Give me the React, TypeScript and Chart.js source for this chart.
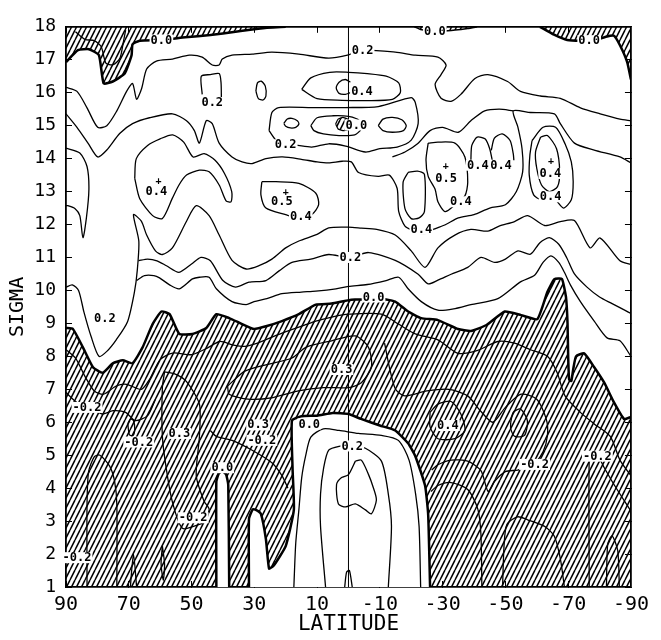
import React, { useEffect, useRef } from "react";
import { Chart, registerables } from "chart.js";

Chart.register(...registerables);

type P = [number, number];

// ---- axes ----
const latTicks = [90, 70, 50, 30, 10, -10, -30, -50, -70, -90];
const sigmaTicks = [1, 2, 3, 4, 5, 6, 7, 8, 9, 10, 11, 12, 13, 14, 15, 16, 17, 18];

// ---- hatched (negative) regions: [latitude, sigma] ----
const hatchLower: P[] = [[90,8.86],[87.8,8.83],[84.6,8.27],[81.4,7.67],[78.3,7.5],[75.1,7.79],[71.9,7.88],[68.8,7.79],[65.6,8.27],[62.4,8.98],[59.6,9.36],[57,9.28],[53.9,8.68],[49.7,8.68],[45.3,8.86],[42.1,9.28],[38,9.16],[33.9,8.98],[30.1,8.83],[26,8.92],[21.2,9.07],[15.8,9.28],[10.4,9.57],[5.4,9.6],[-0.9,9.72],[-5.4,9.72],[-10.5,9.75],[-14.9,9.66],[-19,9.36],[-23.2,9.16],[-28.5,9.1],[-34.9,8.83],[-39,8.77],[-44,8.95],[-49.8,9.36],[-55,9.25],[-60.2,9.13],[-63.4,9.96],[-65.6,10.34],[-68,10.35],[-69.3,9.8],[-69.8,9.0],[-70,8.0],[-70.3,7.3],[-71,7.25],[-71.6,7.6],[-72.5,8.0],[-75.1,8.09],[-78.3,7.67],[-81.5,7.2],[-84.6,6.6],[-87.8,6.1],[-90,6.16]];
const hatchTopLeft: P[] = [[90,16.93],[86.2,17.29],[82.7,17.32],[79.5,17.14],[78,16.28],[75.1,16.34],[71.3,16.58],[69.1,17.14],[68.8,17.47],[66.5,17.58],[59.6,17.6],[52,17.68],[44,17.75],[36,17.85],[28,17.95],[20,18]];
const hatchTopMid: P[] = [[-21,18],[-23,17.92],[-26,17.88],[-30,17.87],[-34,17.9],[-38,17.95],[-41,18]];
const hatchTopRight: P[] = [[-61,18],[-65.5,17.76],[-69.7,17.6],[-74,17.58],[-79,17.6],[-82,17.7],[-84.6,17.73],[-86.5,17.44],[-88.8,16.93],[-90,16.4]];
const hatchBlob: P[] = [[4.1,15.05],[3.3,15.2],[1.8,15.25],[0.2,15.2],[-0.5,15.05],[0.2,14.88],[1.8,14.85],[3.3,14.9],[4.1,15.05]];

// ---- positive holes inside the lower hatched region ----
const whiteTongue: P[] = [[31.7,1],[31.7,3.07],[30.5,3.36],[29.5,3.34],[27.9,3.22],[26.3,2.45],[25.3,1.56],[23.8,1.65],[20,2.24],[17.4,3.34],[17.8,4.56],[18,6.05],[15,6.18],[10,6.2],[5,6.28],[0,6.25],[-4,6.1],[-10,5.9],[-14.9,5.75],[-19,5.36],[-21.3,4.97],[-24.4,4.08],[-25.4,3.19],[-26,1]];
const whiteSlot: P[] = [[42.1,1],[42.1,4.2],[41.3,4.45],[40.2,4.52],[39,4.42],[38.3,4.1],[38,1]];

// ---- contour lines ----
const lineA: P[] = [[90,16.16],[86.5,16.04],[83.3,15.54],[79.9,14.95],[77,15.0],[73.8,15.45],[70.7,16.04],[68.8,16.28],[67.5,15.8],[65.9,16.13],[64.3,16.72],[61.2,16.96],[56.1,17.02],[50.7,17.14],[46.6,17.08],[43.4,16.84],[41.2,16.84],[40.2,17.02],[37.1,17.14],[30.7,17.17],[24.4,17.23],[15.8,17.17],[6.3,17.05],[0,17.15],[-4.5,17.29],[-14.9,17.23],[-21.3,17.14],[-28.5,17.08],[-31.1,16.84],[-29.5,16.55],[-27.6,16.25],[-29.5,15.83],[-32.7,15.74],[-35.8,15.95],[-40.3,16.43],[-44.4,16.55],[-50.7,16.34],[-54.8,16.04],[-61.2,15.9],[-67.5,15.83],[-73.9,15.54],[-80.2,15.36],[-86.5,15.2],[-90,15.15]];
const lineB: P[] = [[90,15.36],[86.5,14.95],[83,14.47],[79.9,14.05],[77,14.26],[72.9,14.76],[68.8,15.06],[63.4,15.24],[56.1,15.36],[51.6,15.15],[49.1,14.85],[47.5,14.47],[45.3,15.15],[43.4,15.06],[41.2,14.47],[37.1,14.05],[33.9,13.9],[30.7,13.85],[26.3,14.0],[21,14.05],[15,13.98],[10,13.9],[6.3,13.87],[2,13.92],[-0.9,13.9],[-3.2,13.58],[-9.5,13.46],[-13,13.5],[-15.5,13.1],[-16,12.4],[-18,11.95],[-21,11.8],[-24,11.7],[-27,11.85],[-31,12.0],[-35,12.2],[-40,12.3],[-45,12.5],[-50,12.6],[-53.5,13.0],[-55.5,13.6],[-55.3,14.3],[-54,14.95],[-52.5,15.45],[-58,15.4],[-65.6,15.36],[-67.5,15.06],[-72,14.47],[-78.3,14.26],[-86.5,14.05],[-90,13.87]];
const loopB2: P[] = [[25.3,14.85],[24.4,15.4],[22.2,15.55],[11.7,15.55],[0.9,15.55],[-9.5,15.58],[-20,15.85],[-21.3,15.7],[-22.2,15.06],[-20,14.56],[-15.5,14.35],[-10,14.3],[-5.4,14.2],[0.9,14.38],[6.3,14.45],[11.7,14.35],[16.8,14.41],[20,14.42],[23.1,14.56],[25.3,14.85]];
const lineD: P[] = [[-14,14.05],[-18,14.2],[-22,14.45],[-26,14.85],[-30,14.95],[-35,14.8],[-39,15.15],[-43.4,15.45],[-48,15.5],[-52.5,15.45]];
const ovalOuter: P[] = [[14.9,16.1],[12,16.45],[6,16.62],[0,16.62],[-6,16.58],[-12,16.5],[-16,16.3],[-16.5,16.0],[-14,15.8],[-6,15.76],[2,15.77],[10,15.82],[14.9,16.1]];
const arcInner: P[] = [[-0.6,16.32],[1,16.4],[3,16.32],[3.9,16.15],[3,15.98],[1,15.95],[-0.6,16.0]];
const loopCenter: P[] = [[12,15.0],[10,15.24],[5,15.3],[0,15.28],[-3.5,15.15],[-4,14.9],[-2,14.72],[3,14.7],[8,14.75],[11,14.85],[12,15.0]];
const ovalLeft: P[] = [[20.6,15.07],[19.5,15.2],[18,15.22],[16.3,15.15],[15.8,15.05],[16.8,14.95],[18.5,14.93],[20,14.98],[20.6,15.07]];
const ovalRight: P[] = [[-9.5,15.0],[-11,15.2],[-14,15.25],[-17,15.18],[-18.4,15.0],[-17.5,14.85],[-14,14.8],[-11,14.85],[-9.5,15.0]];
const ovalSmall: P[] = [[29.5,16.05],[29,16.3],[27.8,16.35],[26.5,16.2],[26.3,15.9],[27.2,15.78],[28.7,15.82],[29.5,16.05]];
const boxLeft: P[] = [[46.6,15.95],[46.9,16.5],[44,16.55],[41.2,16.58],[40.6,16.3],[40.5,15.85]];
const spikeLeft: P[] = [[90,14.32],[85.6,14.17],[83.3,13.76],[82.7,13.07],[83.5,12.2],[84.6,11.6],[85.6,12.27],[87.1,12.48],[89.4,12.57],[90,12.57]];
const loopLeft04: P[] = [[68.1,13.4],[67.6,14.0],[64,14.4],[60,14.6],[56,14.72],[52.5,14.5],[49.5,14.05],[46,14.15],[42.5,13.95],[39.5,13.55],[37.2,13.0],[37.4,12.69],[39,12.72],[41.2,13.2],[44.4,13.6],[47.5,13.65],[51.6,13.5],[54,13.2],[56.1,12.8],[59.3,12.18],[62.4,12.27],[66.5,12.78],[68.1,13.4]];
const loop05Left: P[] = [[27.6,13.3],[23.1,13.3],[15.8,13.25],[10.4,12.95],[9.5,12.6],[11.7,12.3],[15.8,12.2],[20,12.3],[26.3,12.5],[27.9,12.9],[27.6,13.3]];
const loop05Right: P[] = [[-25.4,14.47],[-28.5,14.5],[-33.9,14.47],[-37.1,14.05],[-38,13.28],[-37.1,12.87],[-34,12.6],[-30.8,12.39],[-28.5,12.69],[-27.6,13.07],[-25.4,13.46],[-24.7,13.96],[-25.4,14.47]];
const loop04Small: P[] = [[-19,13.58],[-22,13.62],[-24.2,13.52],[-24.2,12.39],[-22.5,12.2],[-20,12.18],[-18,12.48],[-17.4,13.28],[-19,13.58]];
const arc04a: P[] = [[-39,13.95],[-39.3,14.4],[-41,14.65],[-43.5,14.6],[-45,14.3],[-45.8,13.95]];
const arc04b: P[] = [[-45.5,14.25],[-46.5,14.62],[-49,14.75],[-51.5,14.55],[-52.5,14.15],[-52.7,13.95]];
const loopFarIn: P[] = [[-61.2,14.65],[-63.4,14.7],[-66.3,14.3],[-67.3,13.6],[-66.6,13.15],[-64,13.0],[-61.5,13.2],[-60,13.7],[-59.6,14.2],[-61.2,14.65]];
const loopFarOut: P[] = [[-58.5,14.55],[-62,14.95],[-66,14.95],[-69,14.45],[-71,13.9],[-71.6,13.3],[-71,12.75],[-68.5,12.5],[-66,12.75],[-64.4,12.84],[-61.5,12.75],[-59,12.9],[-57.6,13.5],[-57.8,14.1],[-58.5,14.55]];
const lineE1: P[] = [[90,10.1],[88,10.17],[86,10.0],[84.3,9.35],[82,8.6],[79.5,8.0],[77,8.15],[74,8.5],[70.4,9.05],[68.2,9.95],[67.3,10.6],[66.8,11.5],[68.5,12.3],[66,12.1],[64.3,11.68],[61.5,11.2],[59.3,11.09],[56.1,11.29],[51.6,12.1],[48.5,12.57],[44.4,12.27],[41.2,11.68],[37.1,10.91],[32.6,10.65],[28.5,10.75],[24.4,10.95],[20,11.29],[15.8,11.5],[10,11.7],[6.3,11.9],[0,11.92],[-4.1,11.89],[-9,11.85],[-14.9,11.68],[-20,11.2],[-24.4,10.7],[-28.5,11.29],[-33.9,11.68],[-39,11.85],[-44.4,11.8],[-48,11.95],[-52.9,12.09],[-57.1,12.27],[-62.5,11.97],[-67.5,12.09],[-72,12.12],[-77,11.29],[-80.2,11.59],[-86.5,10.9],[-90,10.79]];
const lineE2: P[] = [[66.9,10.9],[64,10.95],[61,10.9],[58,10.75],[54,10.55],[50,10.8],[47,11.0],[44,10.9],[40,10.3],[36,10.1],[31.7,10.25],[26.3,10.3],[22,10.6],[18,10.85],[12,10.95],[6.3,11.09],[0,11.0],[-6.4,11.15],[-14.9,10.91],[-22.2,10.49],[-25.4,10.2],[-28.5,10.31],[-32.7,10.49],[-38,10.7],[-42.2,11.0],[-46.6,10.85],[-50,10.95],[-54,11.2],[-58,11.1],[-61,11.45],[-64,11.6],[-67,11.4],[-69.5,11.0],[-72,10.5],[-76,10.1],[-80,9.8],[-84,9.6],[-88,9.4],[-90,9.3]];
const lineE3: P[] = [[67.5,10.3],[65,10.45],[62,10.45],[60.2,10.38],[57,10.17],[53.9,10.05],[49.7,10.35],[47.5,10.4],[44.4,10.4],[42.1,10.05],[37.1,9.66],[32.6,9.57],[30.1,9.66],[26,9.75],[21.2,9.9],[15,9.95],[10.4,9.98],[4,10.05],[0,10.12],[-6,10.18],[-12,10.3],[-16,10.4],[-19,10.05],[-23.2,9.66],[-28.5,9.4],[-34,9.45],[-39,9.57],[-47.6,9.75],[-54.8,10.26],[-59.3,10.46],[-62,10.85],[-64.5,11.05],[-67,10.85],[-68.8,10.55],[-70.7,10.17],[-73.9,9.66],[-78.3,9.07],[-82.4,8.56],[-86.5,8.47],[-90,8.0]];
const lineTopLeftInner: P[] = [[87,17.85],[84,17.62],[81,17.58],[78.8,17.4],[77.3,16.9],[75,16.85],[72.8,17.05],[71.8,17.5],[71,17.9]];
const lineIn1: P[] = [[90,8.2],[87,7.95],[84,7.4],[81,6.95],[78,6.85],[74,7.1],[70.7,7.15],[66,7.0],[63.4,7.3],[60,7.9],[56,8.1],[50,8.05],[45,8.25],[41,8.45],[37,8.35],[33,8.3],[29,8.4],[24,8.6],[19,8.78],[14,8.95],[10.4,9.07],[5,9.2],[0,9.28],[-10.5,9.28],[-15.9,8.98],[-21.3,8.68],[-28.5,8.5],[-34.9,8.09],[-41.2,8.18],[-47.6,8.45],[-52.9,8.4],[-58,8.2],[-63.4,8.0],[-66.5,7.5],[-69,6.8],[-73.9,6.3],[-78.3,5.95],[-83.4,5.57],[-86.5,4.85],[-90,4.38]];
const lineIn2: P[] = [[90,6.9],[86.5,6.6],[82,6.45],[78.5,6.25],[75,6.35],[71,6.3],[68,6.05],[64,6.2],[61.5,6.7]];
const ovalTiny: P[] = [[70.3,5.95],[69.5,6.1],[68.5,6.05],[68.1,5.8],[68.6,5.6],[69.8,5.62],[70.3,5.95]];
const loop03Center: P[] = [[38.5,7.1],[33,7.55],[26,7.75],[18,7.95],[13.6,8.27],[5.4,8.47],[-2.2,8.62],[-6.4,8.27],[-7.3,7.67],[-4.1,7.2],[0,7.05],[8,7.05],[16,6.95],[24,6.75],[32,6.7],[38,6.85],[38.5,7.1]];
const loopNeg03: P[] = [[58.6,7.53],[55,7.45],[51.6,7.23],[47.5,6.55],[47.5,5.57],[48.5,4.38],[46,3.6],[44.4,3.37],[45.5,3.0],[47.5,2.9],[52.9,2.78],[56.1,3.58],[58,4.56],[59.3,5.57],[59.3,7.05],[58.6,7.53]];
const archLeft: P[] = [[83.3,1],[83.3,3.5],[82.8,4.5],[81,4.95],[79.2,5.0],[76.1,4.67],[74.5,4.2],[73.8,3.5],[73.8,1]];
const spikeSmall: P[] = [[69.5,1],[68.5,2.0],[67.5,1]];
const lensSmall: P[] = [[59.3,2.25],[58.6,1.7],[59.0,1.2],[59.7,1.7],[59.3,2.25]];
const lineL5: P[] = [[44,5.75],[42.1,5.57],[37.1,5.45],[30.7,5.15],[24.4,4.77],[21.2,4.38],[19.3,4.0]];
const lineT1: P[] = [[17.4,1],[16.8,2.33],[15.8,3.34],[14.9,4.32],[13.6,5.0],[12,5.55],[8,5.8],[3,5.75],[-3.2,5.66],[-10.5,5.6],[-15.9,5.45],[-19.3,4.85],[-21.4,3.82],[-22.5,2.84],[-23,1]];
const lineT2: P[] = [[7.3,1],[8.9,2.84],[8.9,3.82],[7.9,4.62],[6.3,5.15],[3,5.27],[-1,5.3],[-5.4,5.21],[-10.5,4.82],[-12.7,3.82],[-13.7,2.84],[-12.7,1]];
const loopT: P[] = [[-2.2,4.82],[-4.1,4.85],[-6.4,4.41],[-7.9,4.02],[-8.9,3.64],[-7.3,3.22],[-5.4,3.34],[-2.2,3.52],[0.9,3.43],[3.2,3.52],[3.8,4.11],[2.2,4.32],[0,4.41],[-2.2,4.82]];
const archT: P[] = [[1.2,1],[0.6,1.45],[-0.3,1.5],[-1.2,1]];
const loopNeg04: P[] = [[-26,6.3],[-28.5,6.55],[-32.7,6.63],[-35.8,6.25],[-37.1,5.75],[-33.9,5.5],[-28.5,5.5],[-26,5.86],[-26,6.3]];
const lineR2: P[] = [[-11.5,8.4],[-13.2,7.6],[-15,7.0],[-18,6.8],[-25,6.95],[-32,7.0],[-38,6.8],[-42,6.35],[-46,6.0],[-50,6.45],[-55,6.85],[-60,6.7],[-63,6.1],[-63.4,5.6],[-62,5.1],[-59.3,4.75],[-57,4.65],[-54,4.55],[-50,4.5],[-46.5,4.2],[-44.5,3.9],[-42.2,4.53],[-38,4.82],[-32.7,4.85],[-28.5,4.71],[-26.5,4.55]];
const ovalR: P[] = [[-51.7,6.0],[-52.5,6.3],[-54.8,6.4],[-57,6.05],[-56.1,5.6],[-53,5.57],[-51.7,5.8],[-51.7,6.0]];
const archR1: P[] = [[-26.3,3.9],[-28.5,4.08],[-32.7,4.17],[-38,3.96],[-41.2,3.37],[-42.2,2.6],[-42.5,1]];
const archR2: P[] = [[-49.1,1],[-49.6,2.3],[-50.5,2.9],[-53.9,3.13],[-57.1,3.04],[-62.5,2.84],[-65.6,2.54],[-67.5,1.86],[-68.8,1]];
const lineR3: P[] = [[-76.7,1],[-76.7,4.9],[-77.5,5.0],[-79.3,5.0],[-81.5,4.62],[-84.6,4.11],[-90,3.3]];
const archR4: P[] = [[-82.2,1],[-82.6,2.3],[-84,2.55],[-85.8,2.1],[-86.3,1]];
const equatorLine: P[] = [[0,1],[0,18]];

const contourLines: P[][] = [lineA, lineB, loopB2, lineD, ovalOuter, arcInner, loopCenter, ovalLeft, ovalRight, ovalSmall, boxLeft, spikeLeft, loopLeft04, loop05Left, loop05Right, loop04Small, arc04a, arc04b, loopFarIn, loopFarOut, lineE1, lineE2, lineE3, lineTopLeftInner, lineIn1, lineIn2, ovalTiny, loop03Center, loopNeg03, archLeft, spikeSmall, lensSmall, lineL5, lineT1, lineT2, loopT, archT, loopNeg04, lineR2, ovalR, archR1, archR2, lineR3, archR4];

// ---- contour labels: [text, latitude, sigma] ----
const contourLabels: [string, number, number][] = [
  ["0.0",59.6,17.6],["0.0",-27.5,17.86],["0.0",-76.7,17.58],["0.2",-4.5,17.29],["0.4",-4.3,16.05],
  ["0.2",43.4,15.7],["0.0",-2.5,15.02],["0.2",20,14.42],["0.4",61.2,13.0],["0.5",21.2,12.7],
  ["0.4",15.2,12.25],["0.5",-31.1,13.4],["0.4",-35.8,12.69],["0.4",-41.2,13.8],["0.4",-48.6,13.8],
  ["0.4",-64.3,13.55],["0.4",-64.4,12.84],["0.4",-23.2,11.85],["0.2",-0.6,11.0],["0.0",-8,9.8],
  ["0.2",77.6,9.16],["0.3",2.2,7.6],["-0.2",83.3,6.45],["-0.2",66.8,5.4],["0.3",53.9,5.66],
  ["0.3",28.8,5.92],["-0.2",27.6,5.45],["0.0",12.5,5.95],["0.0",40.2,4.62],["-0.2",49.5,3.1],
  ["-0.2",86.5,1.89],["0.4",-31.7,5.9],["0.2",-1.2,5.28],["-0.2",-59.3,4.72],["-0.2",-79.3,4.97]
];
const maxMarks: P[] = [[60.5,13.31],[20,12.98],[-31,13.76],[-64.5,13.92]];

const FONT = "'DejaVu Sans Mono', monospace";

const toXY = (a: P[]) => a.map(([x, y]) => ({ x, y }));

function makeHatch(): CanvasPattern | string {
  const c = document.createElement("canvas");
  c.width = 5;
  c.height = 10;
  const g = c.getContext("2d");
  if (!g) return "#888";
  g.strokeStyle = "#000";
  g.lineWidth = 1.5;
  for (const dx of [-5, 0, 5]) {
    g.beginPath();
    g.moveTo(dx, 10);
    g.lineTo(dx + 5, 0);
    g.stroke();
  }
  return g.createPattern(c, "repeat") || "#888";
}

const labelPlugin = {
  id: "contourLabels",
  afterDatasetsDraw(chart: any) {
    const { ctx, scales } = chart;
    const x = scales.x, y = scales.y;
    ctx.save();
    ctx.font = `bold 12px ${FONT}`;
    ctx.textAlign = "center";
    ctx.textBaseline = "middle";
    for (const [t, la, s] of contourLabels) {
      const px = x.getPixelForValue(la);
      const py = y.getPixelForValue(s);
      const w = ctx.measureText(t).width;
      ctx.fillStyle = "#fff";
      ctx.fillRect(px - w / 2 - 1, py - 5.5, w + 2, 11);
      ctx.fillStyle = "#000";
      ctx.fillText(t, px, py + 0.5);
    }
    ctx.font = `bold 10px ${FONT}`;
    for (const [la, s] of maxMarks) {
      ctx.fillText("+", x.getPixelForValue(la), y.getPixelForValue(s));
    }
    ctx.restore();
  },
};

export default function App() {
  const ref = useRef<HTMLCanvasElement>(null);
  useEffect(() => {
    if (!ref.current) return;
    const hatch = makeHatch();
    const hatchSet = (a: P[], fill: any, bw = 2.5) => ({
      data: toXY(a), showLine: true, borderColor: "#000", borderWidth: bw,
      backgroundColor: hatch, fill, pointRadius: 0, tension: 0.15, order: 3,
    });
    const whiteSet = (a: P[]) => ({
      data: toXY(a), showLine: true, borderColor: "#000", borderWidth: 2.5,
      backgroundColor: "#fff", fill: "shape", pointRadius: 0, tension: 0.15, order: 2,
    });
    const lineSet = (a: P[], w = 1.3) => ({
      data: toXY(a), showLine: true, borderColor: "#000", borderWidth: w,
      fill: false, pointRadius: 0, tension: 0.25, order: 1,
    });
    const tickFont = (size: number) => ({ family: FONT, size });
    const datasets: any[] = [
      hatchSet(hatchLower, "start"),
      hatchSet(hatchTopLeft, "end"),
      hatchSet(hatchTopMid, "end", 1.5),
      hatchSet(hatchTopRight, "end"),
      hatchSet(hatchBlob, "shape", 1.2),
      whiteSet(whiteTongue),
      whiteSet(whiteSlot),
      ...contourLines.map((a) => lineSet(a)),
      { ...lineSet(equatorLine, 1), tension: 0, order: 0 },
    ];
    const chart = new Chart(ref.current, {
      type: "scatter",
      data: { datasets },
      options: {
        animation: false,
        responsive: true,
        maintainAspectRatio: false,
        layout: { padding: { top: 14, right: 27, bottom: 0, left: 0 } },
        plugins: { legend: { display: false }, tooltip: { enabled: false } },
        events: [],
        scales: {
          x: {
            type: "linear", position: "bottom", min: -90, max: 90, reverse: true,
            afterBuildTicks: (s: any) => { s.ticks = latTicks.map((v) => ({ value: v })); },
            ticks: { color: "#000", font: tickFont(20), padding: 12, autoSkip: false, maxRotation: 0, callback: (v: any) => String(v) },
            grid: { drawOnChartArea: false, drawTicks: true, tickLength: -6, color: "#000", lineWidth: 1 },
            border: { display: true, color: "#000", width: 1.8 },
            title: { display: true, text: "LATITUDE", color: "#000", font: tickFont(21), padding: { top: 0, bottom: 3 } },
            afterFit: (s: any) => { s.height = 53; },
          },
          xTop: {
            type: "linear", position: "top", min: -90, max: 90, reverse: true,
            afterBuildTicks: (s: any) => { s.ticks = latTicks.map((v) => ({ value: v })); },
            ticks: { display: false },
            grid: { drawOnChartArea: false, drawTicks: true, tickLength: -6, color: "#000", lineWidth: 1 },
            border: { display: true, color: "#000", width: 1.8 },
            afterFit: (s: any) => { s.height = 0; },
          },
          y: {
            type: "linear", position: "left", min: 1, max: 18,
            afterBuildTicks: (s: any) => { s.ticks = sigmaTicks.map((v) => ({ value: v })); },
            ticks: { color: "#000", font: tickFont(18), padding: 16, autoSkip: false, callback: (v: any) => String(v) },
            grid: { drawOnChartArea: false, drawTicks: true, tickLength: -6, color: "#000", lineWidth: 1 },
            border: { display: true, color: "#000", width: 1.8 },
            title: { display: true, text: "SIGMA", color: "#000", font: tickFont(20), padding: { top: 6, bottom: 0 } },
            afterFit: (s: any) => { s.width = 66; },
          },
          yRight: {
            type: "linear", position: "right", min: 1, max: 18,
            afterBuildTicks: (s: any) => { s.ticks = sigmaTicks.map((v) => ({ value: v })); },
            ticks: { display: false },
            grid: { drawOnChartArea: false, drawTicks: true, tickLength: -6, color: "#000", lineWidth: 1 },
            border: { display: true, color: "#000", width: 1.8 },
            afterFit: (s: any) => { s.width = 0; },
          },
        },
      } as any,
      plugins: [labelPlugin],
    });
    return () => chart.destroy();
  }, []);
  return (
    <div style={{ position: "absolute", left: 0, top: 0, width: 661, height: 640, background: "#fff" }}>
      <canvas ref={ref} />
    </div>
  );
}
